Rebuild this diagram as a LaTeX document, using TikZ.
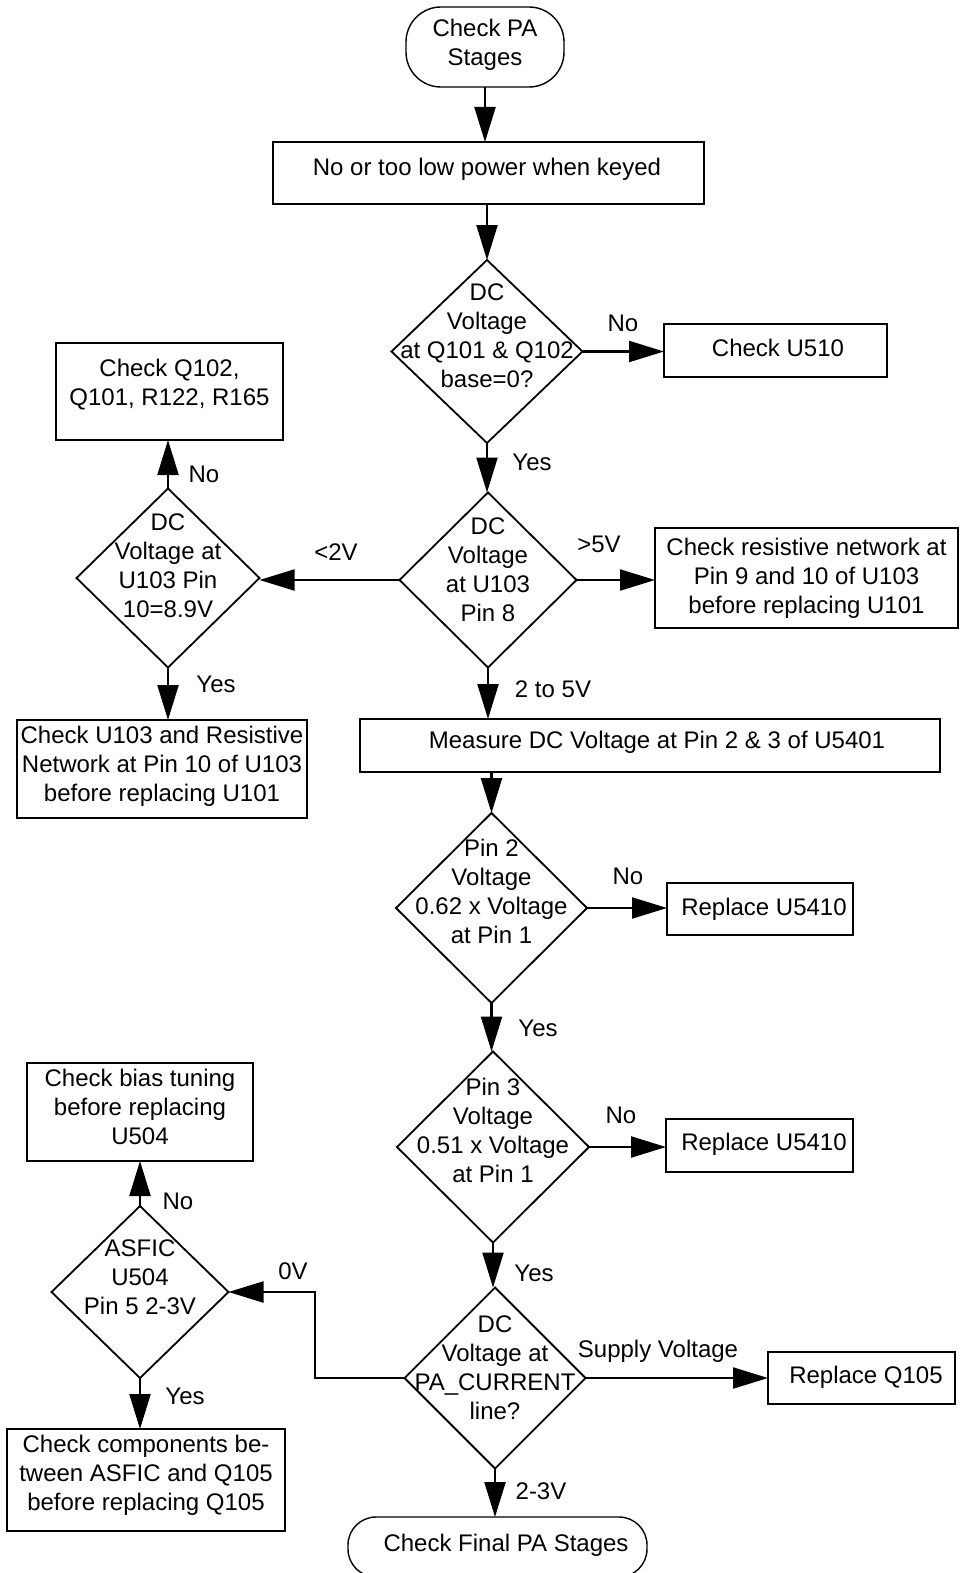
\documentclass[tikz,border=0pt]{standalone}
\usepackage{fontspec}
\setmainfont{Liberation Sans}
\usetikzlibrary{shapes.geometric,arrows.meta}
\newcommand\myfz{\fontsize{24pt}{29pt}\selectfont}
\tikzset{
  box/.style={draw, line width=2.6pt, rectangle, inner sep=0pt, outer sep=0pt},
  dia/.style={draw, line width=1.8pt, diamond, inner sep=0pt, outer sep=0pt},
  term/.style={draw, line width=1.4pt, rectangle, inner sep=0pt, outer sep=0pt},
  txt/.style={align=center, font=\myfz, inner sep=0pt, execute at begin node=\strut, execute at end node=\strut},
  lbl/.style={font=\myfz, inner sep=0pt, anchor=base},
  arr/.style={line width=2.2pt, -{Triangle[length=35pt,width=21pt]}},
}
\begin{document}
\begin{tikzpicture}[x=1pt,y=-1pt]
\useasboundingbox[fill=white] (0,0) rectangle (962,1573);

% shapes
\node[term, rounded corners=35pt, minimum width=158pt, minimum height=80pt] (start) at (485,47) {};
\node[box, minimum width=431pt, minimum height=62pt] (b1) at (488.5,173) {};
\node[dia, minimum width=191pt, minimum height=183pt] (d1) at (487,351.5) {};
\node[box, minimum width=223pt, minimum height=53pt] (u510) at (775.5,350.5) {};
\node[dia, minimum width=177pt, minimum height=175pt] (d2) at (488,580) {};
\node[box, minimum width=303pt, minimum height=100pt] (res) at (806.5,578) {};
\node[dia, minimum width=183pt, minimum height=179pt] (d3) at (168,578) {};
\node[box, minimum width=227pt, minimum height=97pt] (q102) at (169.5,391.5) {};
\node[box, minimum width=290pt, minimum height=98pt] (u103) at (162,769) {};
\node[box, minimum width=580pt, minimum height=53pt] (meas) at (650,745.5) {};
\node[dia, minimum width=191pt, minimum height=190pt] (d4) at (491.5,908) {};
\node[box, minimum width=186pt, minimum height=52pt] (r1) at (760,909) {};
\node[dia, minimum width=192pt, minimum height=191pt] (d5) at (493,1147) {};
\node[box, minimum width=187pt, minimum height=53pt] (r2) at (759.5,1145.5) {};
\node[dia, minimum width=181pt, minimum height=181pt] (d6) at (495,1378) {};
\node[box, minimum width=187pt, minimum height=52pt] (q105) at (861.5,1378) {};
\node[term, rounded corners=28pt, minimum width=299pt, minimum height=60pt] (fin) at (497.5,1547) {};
\node[dia, minimum width=177pt, minimum height=172pt] (d7) at (140,1292) {};
\node[box, minimum width=226pt, minimum height=98pt] (bias) at (140,1112) {};
\node[box, minimum width=278pt, minimum height=102pt] (comp) at (146,1480) {};
\coordinate (c0) at (315,1378);

% texts
\node[txt] (tstart) at (485,46.5) {Check PA\\Stages};
\node[txt] (tb1) at (487,170) {No or too low power when keyed};
\node[txt] (td1) at (487,340) {DC\\Voltage\\at Q101 \& Q102\\base=0?};
\node[txt] (tu510) at (778,351) {Check U510};
\node[txt] (td2) at (488,574) {DC\\Voltage\\at U103\\Pin 8};
\node[txt] (tres) at (806.5,580) {Check resistive network at\\Pin 9 and 10 of U103\\before replacing U101};
\node[txt] (td3) at (168,570) {DC\\Voltage at\\U103 Pin\\10=8.9V};
\node[txt] (tq102) at (169.5,387) {Check Q102,\\Q101, R122, R165};
\node[txt] (tu103) at (162,768) {Check U103 and Resistive\\Network at Pin 10 of U103\\before replacing U101};
\node[txt] (tmeas) at (657,743) {Measure DC Voltage at Pin 2 \& 3 of U5401};
\node[txt] (td4) at (491.5,896) {Pin 2\\Voltage\\0.62 x Voltage\\at Pin 1};
\node[txt] (tr1) at (764,910) {Replace U5410};
\node[txt] (td5) at (493,1135) {Pin 3\\Voltage\\0.51 x Voltage\\at Pin 1};
\node[txt] (tr2) at (764,1145) {Replace U5410};
\node[txt] (td6) at (495,1372) {DC\\Voltage at\\PA\_CURRENT\\line?};
\node[txt] (tq105) at (866,1378) {Replace Q105};
\node[txt] (tfin) at (506,1546) {Check Final PA Stages};
\node[txt] (td7) at (140,1281) {ASFIC\\U504\\Pin 5 2-3V};
\node[txt] (tbias) at (140,1111) {Check bias tuning\\before replacing\\U504};
\node[txt] (tcomp) at (146,1477) {Check components be-\\tween ASFIC and Q105\\before replacing Q105};

% connectors
\draw[arr] (start.south) -- (start.south |- b1.north);
\draw[arr] (b1.south -| d1.north) -- (d1.north);
\draw[arr] (d1.east) -- (d1.east -| u510.west);
\draw[arr] (d1.south) -- (d1.south |- d2.north);
\draw[arr] (d2.east) -- (d2.east -| res.west);
\draw[arr] (d2.west) -- (d2.west -| d3.east);
\draw[arr] (d3.north) -- (d3.north |- q102.south);
\draw[arr] (d3.south) -- (d3.south |- u103.north);
\draw[arr] (d2.south) -- (d2.south |- meas.north);
\draw[arr] (meas.south -| d4.north) -- (d4.north);
\draw[arr] (d4.east) -- (d4.east -| r1.west);
\draw[arr] (d4.south) -- (d4.south |- d5.north);
\draw[arr] (d5.east) -- (d5.east -| r2.west);
\draw[arr] (d5.south) -- (d5.south |- d6.north);
\draw[arr] (d6.east) -- (d6.east -| q105.west);
\draw[arr] (d6.south) -- (d6.south |- fin.north);
\draw[arr] (d6.west) -- (c0) |- (d7.east);
\draw[arr] (d7.north) -- (d7.north |- bias.south);
\draw[arr] (d7.south) -- (d7.south |- comp.north);

% labels
\node[lbl] (l1) at (623,331) {No};
\node[lbl] (l2) at (532,470) {Yes};
\node[lbl] (l3) at (599,552) {>5V};
\node[lbl] (l4) at (336,560) {<2V};
\node[lbl] (l5) at (204,482) {No};
\node[lbl] (l6) at (216,692) {Yes};
\node[lbl] (l7) at (553,697) {2 to 5V};
\node[lbl] (l8) at (628,884) {No};
\node[lbl] (l9) at (538,1036) {Yes};
\node[lbl] (l10) at (621,1123) {No};
\node[lbl] (l11) at (534,1281) {Yes};
\node[lbl] (l12) at (658,1357) {Supply Voltage};
\node[lbl] (l13) at (541,1499) {2-3V};
\node[lbl] (l14) at (293,1279) {0V};
\node[lbl] (l15) at (178,1209) {No};
\node[lbl] (l16) at (185,1404) {Yes};
\end{tikzpicture}
\end{document}
